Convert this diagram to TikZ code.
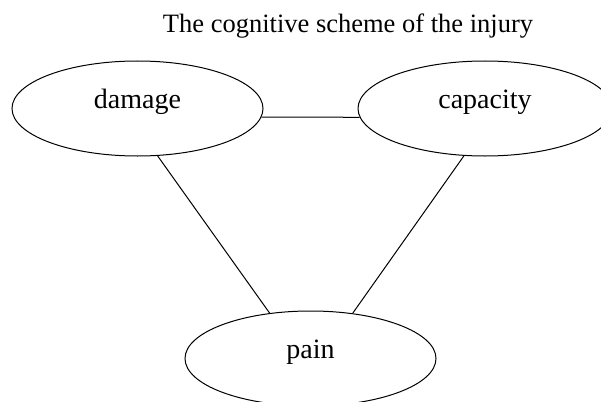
\documentclass[tikz,border=0pt]{standalone}
\usepackage{fontspec}
\setmainfont{Liberation Serif}
\usepackage{tikz}
\usetikzlibrary{shapes.geometric, positioning}
\tikzset{
	concept/.style={ellipse, draw=black, line width=1pt, minimum width=251pt, minimum height=95pt, inner sep=0pt, text height=10pt, text depth=10pt, font=\fontsize{28}{30}\selectfont},
	link/.style={line width=1pt},
	% heading over the scheme
	heading/.style={anchor=base, inner sep=0pt, font=\fontsize{26.5}{28}\selectfont},
}
\begin{document}
\begin{tikzpicture}[x=1pt, y=-1pt]
	\useasboundingbox (0,0) rectangle (601,401);
	\node[heading] (title) at (348,33) {The cognitive scheme of the injury};
	\node[concept] (damage) at (137.5,108.5) {damage};
	\node[concept, minimum width=254pt] (capacity) at (485,108.5) {capacity};
	\node[concept] (pain) at (310.5,358.5) {pain};
	\draw[link] (damage.-4) -- (capacity.184);
	\draw[link] (damage.-67.7) -- (pain.132.8);
	\draw[link] (capacity.246) -- (pain.47.9);
\end{tikzpicture}
\end{document}
